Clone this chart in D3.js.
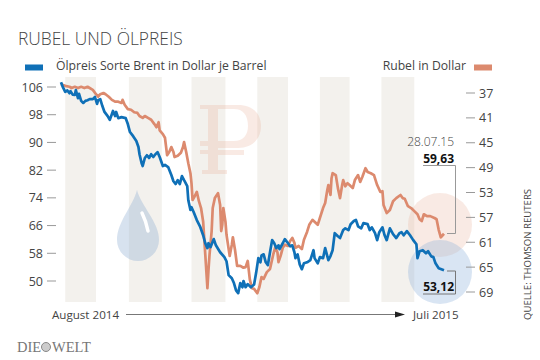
<!DOCTYPE html>
<meta charset="utf-8">
<head>
<!-- Load d3.js -->
<script src="https://d3js.org/d3.v7.min.js"></script>
<style>
  html, body { margin: 0; padding: 0; background: #fff; }
  text { font-family: "Open Sans", sans-serif; fill: #444; }
  .grid { fill: #f3f1ed; }
  .tick-line { stroke: #999; stroke-width: 1; }
</style>
</head>
<body>
<div id="my_dataviz"></div>

<script>
    // days since 1 August 2014 and values
    var oilDays = [0,2,4,6,8,9,11,13,14,16,17,19,21,23,25,27,30,32,34,35,37,39,41,44,46,48,49,51,52,54,57,61,63,65,68,71,73,74,76,77,79,81,83,85,87,89,91,93,96,98,101,104,106,108,110,112,114,116,119,120,122,123,125,128,131,134,136,138,139,141,144,146,150,154,156,158,161,163,165,167,169,171,172,174,176,179,182,184,186,188,189,191,193,195,197,199,201,203,205,206,209,211,214,216,218,220,221,223,225,227,229,232,235,238,239,242,244,247,249,252,254,256,258,261,263,266,268,271,273,276,278,280,283,285,289,291,293,296,298,300,303,305,307,310,313,316,319,321,323,326,329,332,335,336,338,341,344,346,349,351,353,356,361];
    var oilValues = [107.4,105.8,104.6,105,104.2,104.8,103.8,103.7,105.1,102.8,104,102,101.4,102,102.2,102.5,102.5,103.1,101.1,102.2,102.5,100.5,98.8,97.6,96.5,98.2,99.1,97.6,98.8,97,97.3,97,95.3,93,91.8,90.4,88.7,86.6,84,83.2,85.5,86.3,85.5,86.6,85.8,86.6,87.2,85.8,83.2,83.5,82.9,80.6,78.8,78,79.1,78,80.3,79.1,77.4,73.3,70.5,71.3,69.9,67.6,65.8,63.2,60.9,59.5,60.9,59.8,62.1,60.3,58.3,56.9,55.7,51.7,50.8,49.4,47.3,46.5,49.4,48.2,50,48.2,49.1,48.2,49,52.5,56.6,55.4,57.4,57.7,55.4,54.6,58.3,61.8,60.9,59.5,60.3,59.2,60.9,62.1,60.9,60,60.3,58.3,56.6,57.7,54.8,53.4,55.1,55.4,56,58.9,56.6,55.1,56.9,56.6,59.5,56,57.2,58.9,63.8,62.9,62.4,64.7,65.2,64.7,66.4,67.3,67.6,65.8,65.2,66.7,66.4,64.7,65.5,63.8,61.8,64.1,65.5,63.2,61.8,65.2,63.5,62.4,63.8,64.1,63.2,64.4,63.2,61.8,60.6,56.6,58.6,58.9,58,58.6,57.1,56.9,55.1,53.7,53.12];

    var rubelDays = [0,2,5,8,10,13,16,19,22,25,27,30,33,35,37,40,42,45,48,51,54,57,58,60,63,66,69,72,74,77,79,82,85,88,90,92,93,96,98,100,102,104,106,107,110,113,115,116,118,120,122,123,124,126,128,130,132,134,136,138,139,140,142,143,145,148,150,151,152,153,155,156,159,161,162,164,166,169,172,174,176,178,180,182,185,187,189,191,194,197,200,202,204,205,207,209,211,214,216,218,220,221,224,227,229,232,234,237,239,242,244,247,249,251,252,254,255,256,259,261,263,265,266,268,270,272,275,277,280,282,284,287,289,292,295,298,301,303,304,307,310,313,316,320,322,324,327,330,333,336,338,340,342,345,348,352,354,356,358,361];
    var rubelValues = [35.55,35.7,35.9,36,36.2,36,36.2,36,36.2,36,36.2,36.5,37.2,37.6,37.2,37,37.2,37.6,38.1,38.4,38.4,38.6,38.1,38.9,39.6,39.7,40.1,40.2,40.7,41,40.7,41,41.3,42,42.5,41.7,43,43.6,44.2,47,46.5,45.7,46.5,47.3,47.1,46.6,45.7,44.9,46.5,48.3,49.9,51.5,54.2,53.6,52.9,54.4,55.5,57.7,63,68.4,65.5,63,59.2,55.5,53.9,53.1,55,59.2,58.2,55.5,57.7,59.8,63.2,61.4,60.2,62.2,64.8,64.8,65.1,65,64,67,68.4,68.5,69.2,68.2,66.6,66.9,65.8,65.3,63,61.8,62.6,64.2,63.2,61.9,61.4,61.6,60.8,60.3,61.1,61.9,61.6,62.1,60.6,59.3,58.2,57.4,57.7,58.2,57.1,55.5,54.7,52.6,51.8,53.4,50.7,49.9,50.2,52.3,53.9,51.8,51,52,51.5,51.8,52.3,51,50.2,51.3,50.5,49.1,49.7,49.9,50.2,51.8,52.9,52.8,55,56.3,55.8,54.4,53.9,53.4,53.9,54,55.2,55.5,56,56.5,57.3,57.6,56.5,56.8,56.8,57.1,57.3,59,60.2,59.63];

    var oilTicks = [106,98,90,82,74,66,58,50];
    var rubelTicks = [37,41,45,49,53,57,61,65,69];
    // shaded months, start and end day
    var stripeStart = [4,64,123,185,244,302];
    var stripeEnd = [33,95,155,214,272,333];

    var width = 540, height = 360;

    var svg = d3.select("#my_dataviz")
      .append("svg")
        .attr("width", width)
        .attr("height", height)
        .style("display", "block");

    var x = d3.scaleLinear().domain([0, 361]).range([61, 444]);
    var yOil = d3.scaleLinear().domain([106, 50]).range([87, 281]);
    var yRubel = d3.scaleLinear().domain([37, 69]).range([93, 292]);

    // shaded stripes
    svg.selectAll(".grid")
      .data(stripeStart)
      .enter()
      .append("rect")
        .attr("class", "grid")
        .attr("x", function(d) { return x(d); })
        .attr("y", 77)
        .attr("width", function(d, i) { return x(stripeEnd[i]) - x(d); })
        .attr("height", 225);

    // rouble sign
    var ruble = svg.append("g").attr("fill", "#e8a68c").attr("opacity", 0.23);
    ruble.append("path")
      .attr("fill-rule", "evenodd")
      .attr("d", "M200,105 H238 C252,105 261,113 261,126 C261,139 252,148 238,148 H218 V170 H227 V174 H202 V170 H208 V154 H200 V150 H208 V146 H200 V141 H208 V109 H200 Z M218,109 V141 H234 C243,141 248,135 248,126 C248,115 243,109 234,109 Z");
    ruble.append("rect").attr("x", 218).attr("y", 150).attr("width", 26).attr("height", 5);

    // oil drop
    svg.append("path")
      .attr("d", "M137,190 C133,206 117,222 117,240 A21,21 0 0 0 159,240 C159,222 141,206 137,190 Z")
      .attr("fill", "#8fb0d2")
      .attr("opacity", 0.36);
    svg.append("path")
      .attr("d", "M142,213 Q146,221 148,231")
      .attr("fill", "none")
      .attr("stroke", "#fff")
      .attr("stroke-width", 3.5)
      .attr("stroke-linecap", "round");

    // highlight circles
    svg.append("circle").attr("cx", 440).attr("cy", 225).attr("r", 32)
      .attr("fill", "#e9b39f").attr("opacity", 0.28);
    svg.append("circle").attr("cx", 440).attr("cy", 272).attr("r", 32)
      .attr("fill", "#8aaedb").attr("opacity", 0.32);

    // lines
    var rubelLine = d3.line()
      .x(function(d, i) { return x(rubelDays[i]); })
      .y(function(d) { return yRubel(d); });
    var oilLine = d3.line()
      .x(function(d, i) { return x(oilDays[i]); })
      .y(function(d) { return yOil(d); });

    svg.append("path")
      .attr("d", rubelLine(rubelValues))
      .attr("fill", "none")
      .attr("stroke", "#dc8a6e")
      .attr("stroke-width", 2.7)
      .attr("stroke-linejoin", "round");
    svg.append("path")
      .attr("d", oilLine(oilValues))
      .attr("fill", "none")
      .attr("stroke", "#0f70b7")
      .attr("stroke-width", 2.7)
      .attr("stroke-linejoin", "round");

    // axes
    var leftAxis = svg.selectAll(".left-tick")
      .data(oilTicks)
      .enter()
      .append("g")
        .attr("class", "left-tick")
        .attr("transform", function(d) { return "translate(0," + yOil(d) + ")"; });
    leftAxis.append("line").attr("class", "tick-line").attr("x1", 47).attr("x2", 56);
    leftAxis.append("text")
      .attr("x", 43).attr("y", 4.5)
      .attr("text-anchor", "end")
      .attr("font-size", 12.5)
      .text(function(d) { return d; });

    var rightAxis = svg.selectAll(".right-tick")
      .data(rubelTicks)
      .enter()
      .append("g")
        .attr("class", "right-tick")
        .attr("transform", function(d) { return "translate(0," + yRubel(d) + ")"; });
    rightAxis.append("line").attr("class", "tick-line").attr("x1", 466).attr("x2", 475);
    rightAxis.append("text")
      .attr("x", 479).attr("y", 4.5)
      .attr("font-size", 12.5)
      .text(function(d) { return d; });

    // title and legend
    svg.append("text")
      .attr("x", 18).attr("y", 45)
      .attr("font-size", 17.4)
      .attr("font-weight", 300)
      .text("RUBEL UND ÖLPREIS");

    svg.append("rect").attr("x", 25).attr("y", 64.5).attr("width", 18).attr("height", 6).attr("fill", "#0f70b7");
    svg.append("text")
      .attr("x", 56).attr("y", 70)
      .attr("font-size", 12.2)
      .text("Ölpreis Sorte Brent in Dollar je Barrel");

    svg.append("rect").attr("x", 474).attr("y", 64.5).attr("width", 18).attr("height", 6).attr("fill", "#dc8a6e");
    svg.append("text")
      .attr("x", 466).attr("y", 70)
      .attr("text-anchor", "end")
      .attr("font-size", 12.2)
      .text("Rubel in Dollar");

    // time arrow
    svg.append("text").attr("x", 52).attr("y", 319).attr("font-size", 11.6).text("August 2014");
    svg.append("text").attr("x", 413).attr("y", 319).attr("font-size", 11.6).text("Juli 2015");
    svg.append("line")
      .attr("x1", 126).attr("x2", 396).attr("y1", 314.5).attr("y2", 314.5)
      .attr("stroke", "#777").attr("stroke-width", 1);
    svg.append("path").attr("d", "M395,311.5 L405,314.5 L395,317.5 Z").attr("fill", "#222");

    // annotations
    svg.append("path")
      .attr("d", "M423,165.5 H455.5 V233.5 H447")
      .attr("fill", "none").attr("stroke", "#999").attr("stroke-width", 1);
    svg.append("path")
      .attr("d", "M447,271 H455.5 V294 H423")
      .attr("fill", "none").attr("stroke", "#777").attr("stroke-width", 1);
    svg.append("text")
      .attr("x", 454).attr("y", 146)
      .attr("text-anchor", "end")
      .attr("font-size", 12)
      .attr("font-weight", 300)
      .text("28.07.15");
    svg.append("text")
      .attr("x", 454).attr("y", 162.5)
      .attr("text-anchor", "end")
      .attr("font-size", 12)
      .attr("font-weight", 700)
      .style("fill", "#111")
      .text("59,63");
    svg.append("text")
      .attr("x", 454).attr("y", 291)
      .attr("text-anchor", "end")
      .attr("font-size", 12)
      .attr("font-weight", 700)
      .style("fill", "#111")
      .text("53,12");

    // source
    svg.append("text")
      .attr("transform", "translate(531,320) rotate(-90)")
      .attr("font-size", 9.6)
      .text("QUELLE: THOMSON REUTERS");

    // logo
    svg.append("text")
      .attr("x", 17).attr("y", 352)
      .attr("font-size", 14.5)
      .style("font-family", "'Liberation Serif', serif")
      .style("fill", "#777")
      .text("DIE");
    svg.append("circle").attr("cx", 46).attr("cy", 347).attr("r", 4.5)
      .attr("fill", "#ccc").attr("stroke", "#888").attr("stroke-width", 1);
    svg.append("text")
      .attr("x", 52).attr("y", 352)
      .attr("font-size", 14.5)
      .style("font-family", "'Liberation Serif', serif")
      .style("fill", "#777")
      .text("WELT");
</script>
</body>
